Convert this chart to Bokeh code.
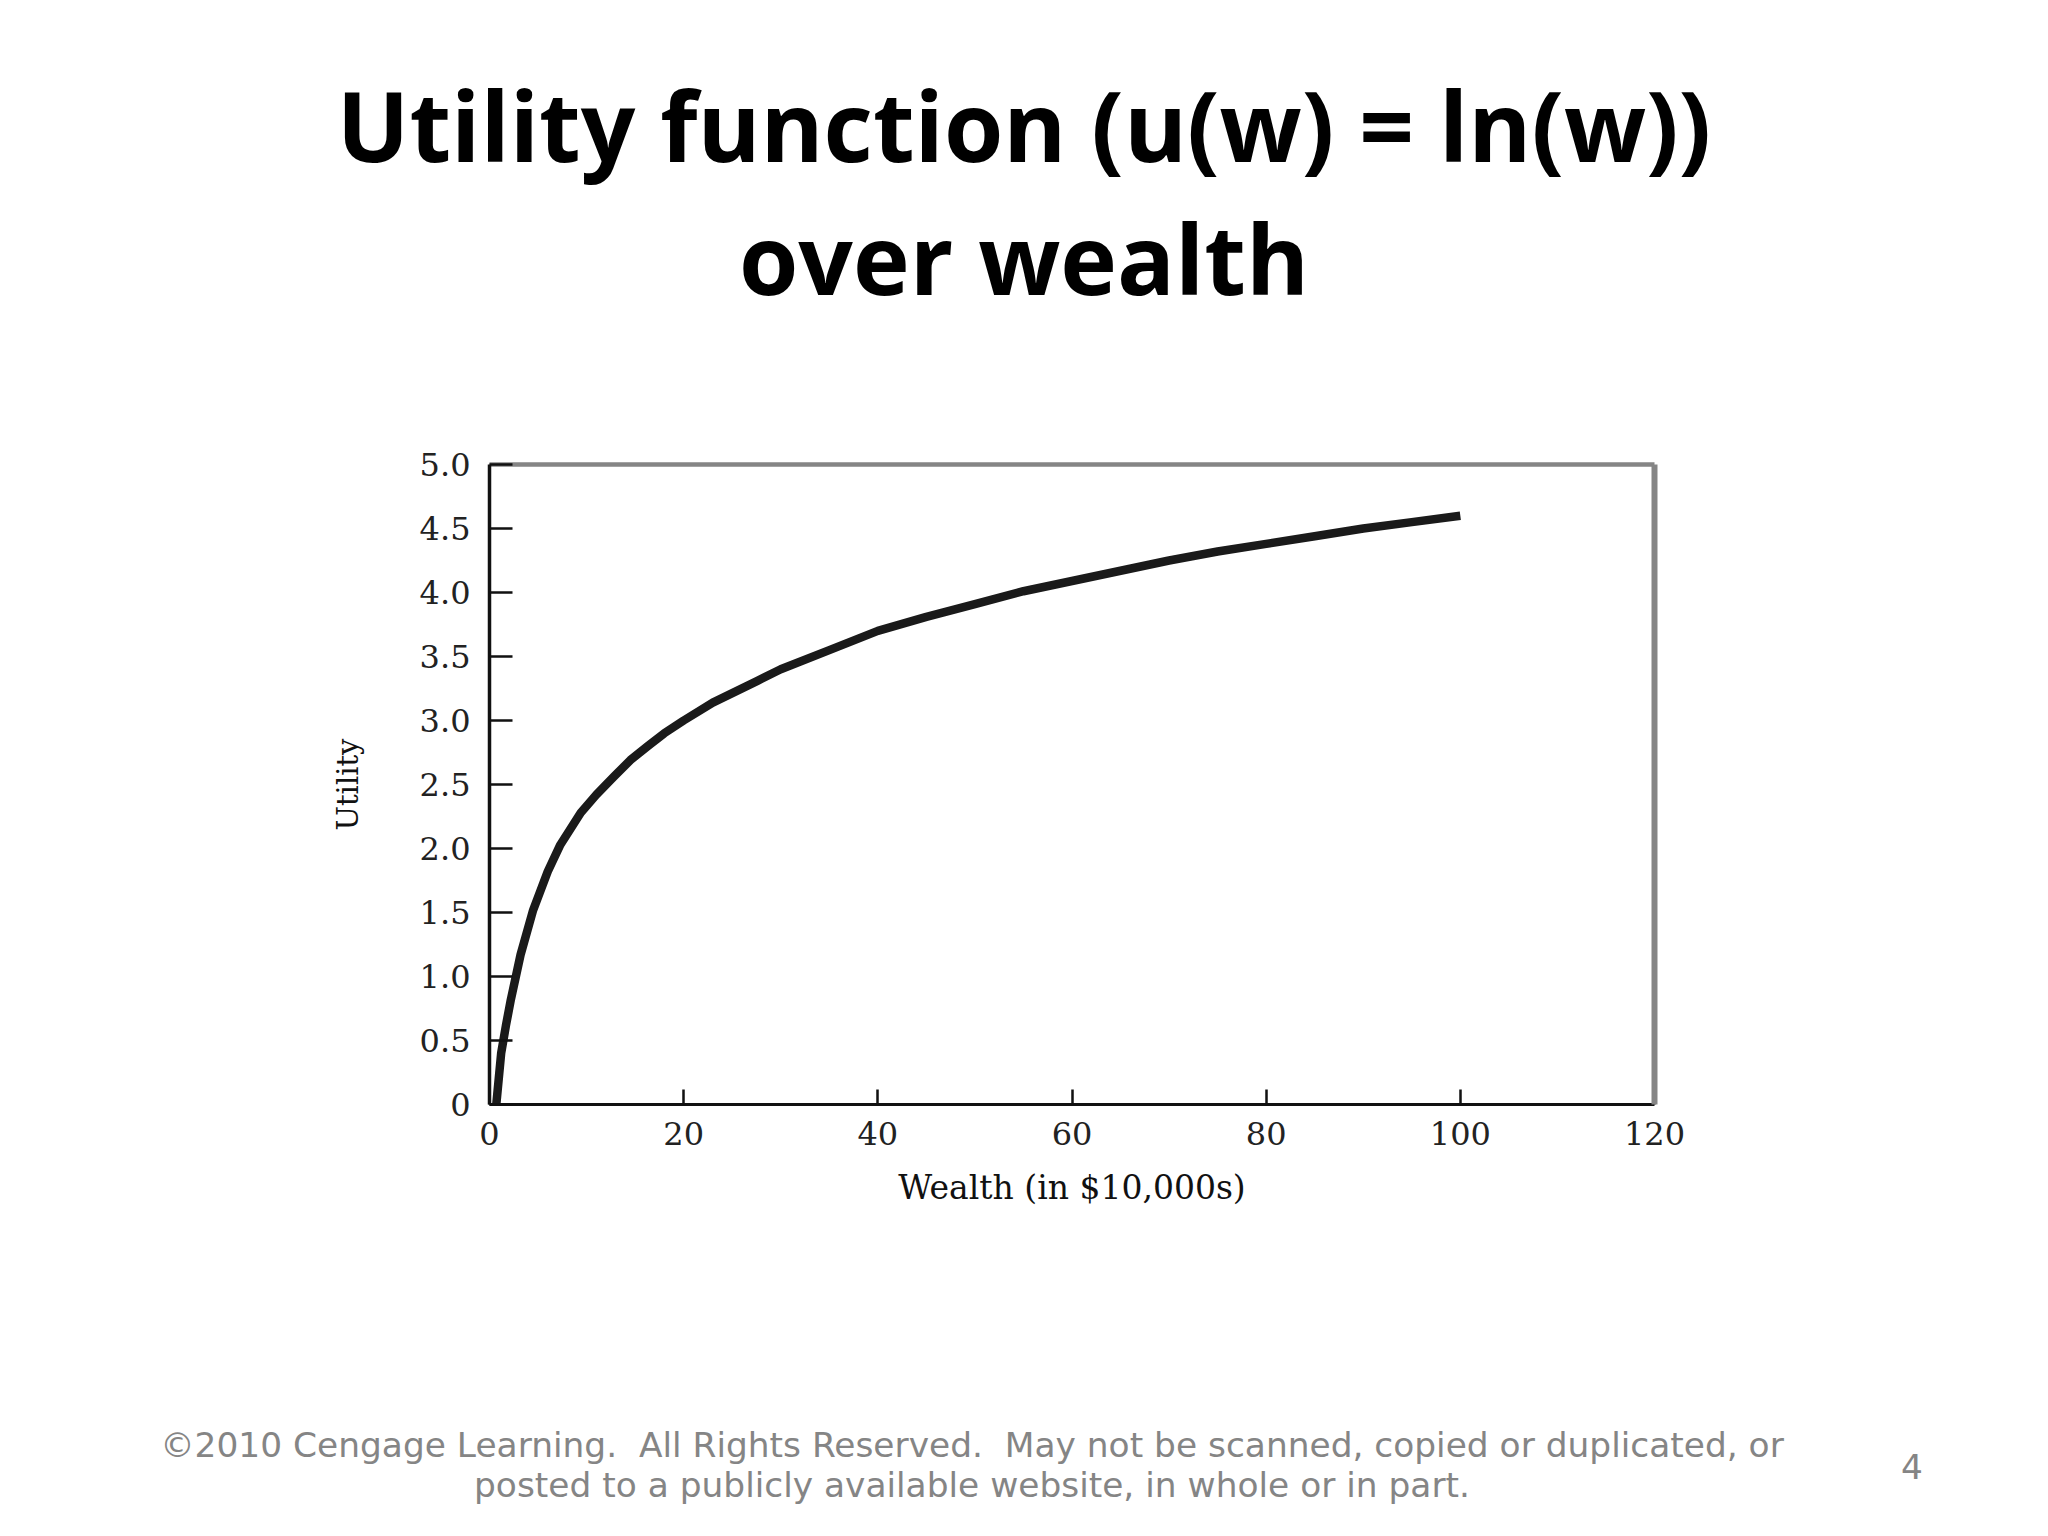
from bokeh.plotting import figure
from bokeh.models import Range1d, LinearAxis, FixedTicker, Div
from bokeh.layouts import column
from bokeh.embed import file_html
from bokeh.resources import INLINE

# ---- data ----
wealth = [0.7, 1.2, 1.7, 2.2, 3.2, 4.5, 6.0, 7.3, 9.4, 11, 12.8, 14.5, 16.3, 18, 20, 23, 27.6, 30, 35,
          40, 45, 50, 55, 60, 65, 70, 75, 80, 85, 90, 95, 100]
utility = [0.0, 0.40, 0.62, 0.82, 1.17, 1.52, 1.82, 2.03, 2.28, 2.42, 2.56, 2.69, 2.80, 2.90, 3.00, 3.14,
           3.31, 3.40, 3.55, 3.70, 3.81, 3.91, 4.01, 4.09, 4.17, 4.25, 4.32, 4.38, 4.44, 4.50, 4.55, 4.60]

x_ticks = [0, 20, 40, 60, 80, 100, 120]
x_tick_labels = ["0", "20", "40", "60", "80", "100", "120"]
y_ticks = [0, 0.5, 1.0, 1.5, 2.0, 2.5, 3.0, 3.5, 4.0, 4.5, 5.0]
y_tick_labels = ["0", "0.5", "1.0", "1.5", "2.0", "2.5", "3.0", "3.5", "4.0", "4.5", "5.0"]

title_lines = ["Utility function (u(w) = ln(w))", "over wealth"]
x_label = "Wealth (in $10,000s)"
y_label = "Utility"
footnote_lines = ["\u00a92010 Cengage Learning.  All Rights Reserved.  May not be scanned, copied or duplicated, or",
                  "posted to a publicly available website, in whole or in part."]
page_number = "4"

W = 2048
TOP_H, MAIN_H, FOOT_H = 320, 980, 232


def line_div(text, top, left, width, font, size, weight, color):
    return ('<div style="position:absolute;left:%dpx;top:%dpx;width:%dpx;text-align:center;'
            'white-space:pre;font-family:%s;font-size:%spx;font-weight:%s;line-height:normal;'
            'color:%s;margin:0;padding:0;">%s</div>' % (left, top, width, font, size, weight, color, text))


# ---- title panel ----
title_html = ('<div style="position:relative;width:%dpx;height:%dpx;margin:0;padding:0;">' % (W, TOP_H)
              + line_div(title_lines[0], 59, 0, W, "'Open Sans'", 96, "bold", "#000000")
              + line_div(title_lines[1], 192, 0, W, "'Open Sans'", 96, "bold", "#000000")
              + '</div>')
top = Div(text=title_html, width=W, height=TOP_H, margin=(0, 0, 0, 0))

# ---- main chart ----
p = figure(width=W, height=MAIN_H, x_range=Range1d(0, 120), y_range=Range1d(0, 5),
           output_backend="svg", toolbar_location=None, title=None,
           x_axis_type=None, y_axis_type=None,
           min_border_left=489, min_border_right=W - 1654, min_border_top=464 - TOP_H,
           min_border_bottom=TOP_H + MAIN_H - 1104)
p.outline_line_color = None
p.background_fill_color = "white"
p.border_fill_color = "white"

serif = "DejaVu Serif"

xaxis = LinearAxis(ticker=FixedTicker(ticks=x_ticks),
                   major_label_overrides=dict(zip(x_ticks, x_tick_labels)),
                   axis_label=x_label)
xaxis.axis_line_color = "#111111"
xaxis.axis_line_width = 3
xaxis.major_tick_in = 15
xaxis.major_tick_out = 0
xaxis.major_tick_line_width = 2.5
xaxis.major_tick_line_color = "#111111"
xaxis.minor_tick_line_color = None
xaxis.major_label_standoff = 17
xaxis.major_label_text_font = serif
xaxis.major_label_text_font_size = "32px"
xaxis.major_label_text_color = "#222222"
xaxis.axis_label_text_font = serif
xaxis.axis_label_text_font_size = "33px"
xaxis.axis_label_text_font_style = "normal"
xaxis.axis_label_text_color = "#111111"
xaxis.axis_label_standoff = 20
p.add_layout(xaxis, "below")

yaxis = LinearAxis(ticker=FixedTicker(ticks=y_ticks),
                   major_label_overrides=dict(zip(y_ticks, y_tick_labels)),
                   axis_label=y_label)
yaxis.axis_line_color = "#111111"
yaxis.axis_line_width = 3.5
yaxis.major_tick_in = 23
yaxis.major_tick_out = 0
yaxis.major_tick_line_width = 2.5
yaxis.major_tick_line_color = "#111111"
yaxis.minor_tick_line_color = None
yaxis.major_label_standoff = 19
yaxis.major_label_text_font = serif
yaxis.major_label_text_font_size = "32px"
yaxis.major_label_text_color = "#222222"
yaxis.axis_label_text_font = serif
yaxis.axis_label_text_font_size = "29px"
yaxis.axis_label_text_font_style = "normal"
yaxis.axis_label_text_color = "#111111"
yaxis.axis_label_standoff = 52
p.add_layout(yaxis, "left")

# gray frame lines on top and right
for side, width in (("right", 6), ("above", 4.5)):
    ax = LinearAxis(ticker=FixedTicker(ticks=[]))
    ax.axis_line_color = "#858585"
    ax.axis_line_width = width
    ax.major_tick_line_color = None
    ax.minor_tick_line_color = None
    ax.major_label_text_font_size = "0px"
    p.add_layout(ax, side)

p.line(wealth, utility, line_width=8.5, line_color="#1a1a1a", line_join="round")

# ---- footnote panel ----
foot_html = ('<div style="position:relative;width:%dpx;height:%dpx;margin:0;padding:0;">' % (W, FOOT_H)
             + line_div(footnote_lines[0], 125, 0, 1944, "'DejaVu Sans'", 34.4, "normal", "#858585")
             + line_div(footnote_lines[1], 165, 0, 1944, "'DejaVu Sans'", 34.4, "normal", "#858585")
             + line_div(page_number, 147, 1862, 100, "'DejaVu Sans'", 34.4, "normal", "#858585")
             + '</div>')
foot = Div(text=foot_html, width=W, height=FOOT_H, margin=(0, 0, 0, 0))

layout = column(top, p, foot, spacing=0)
open("out.html", "w").write(file_html(layout, INLINE))
